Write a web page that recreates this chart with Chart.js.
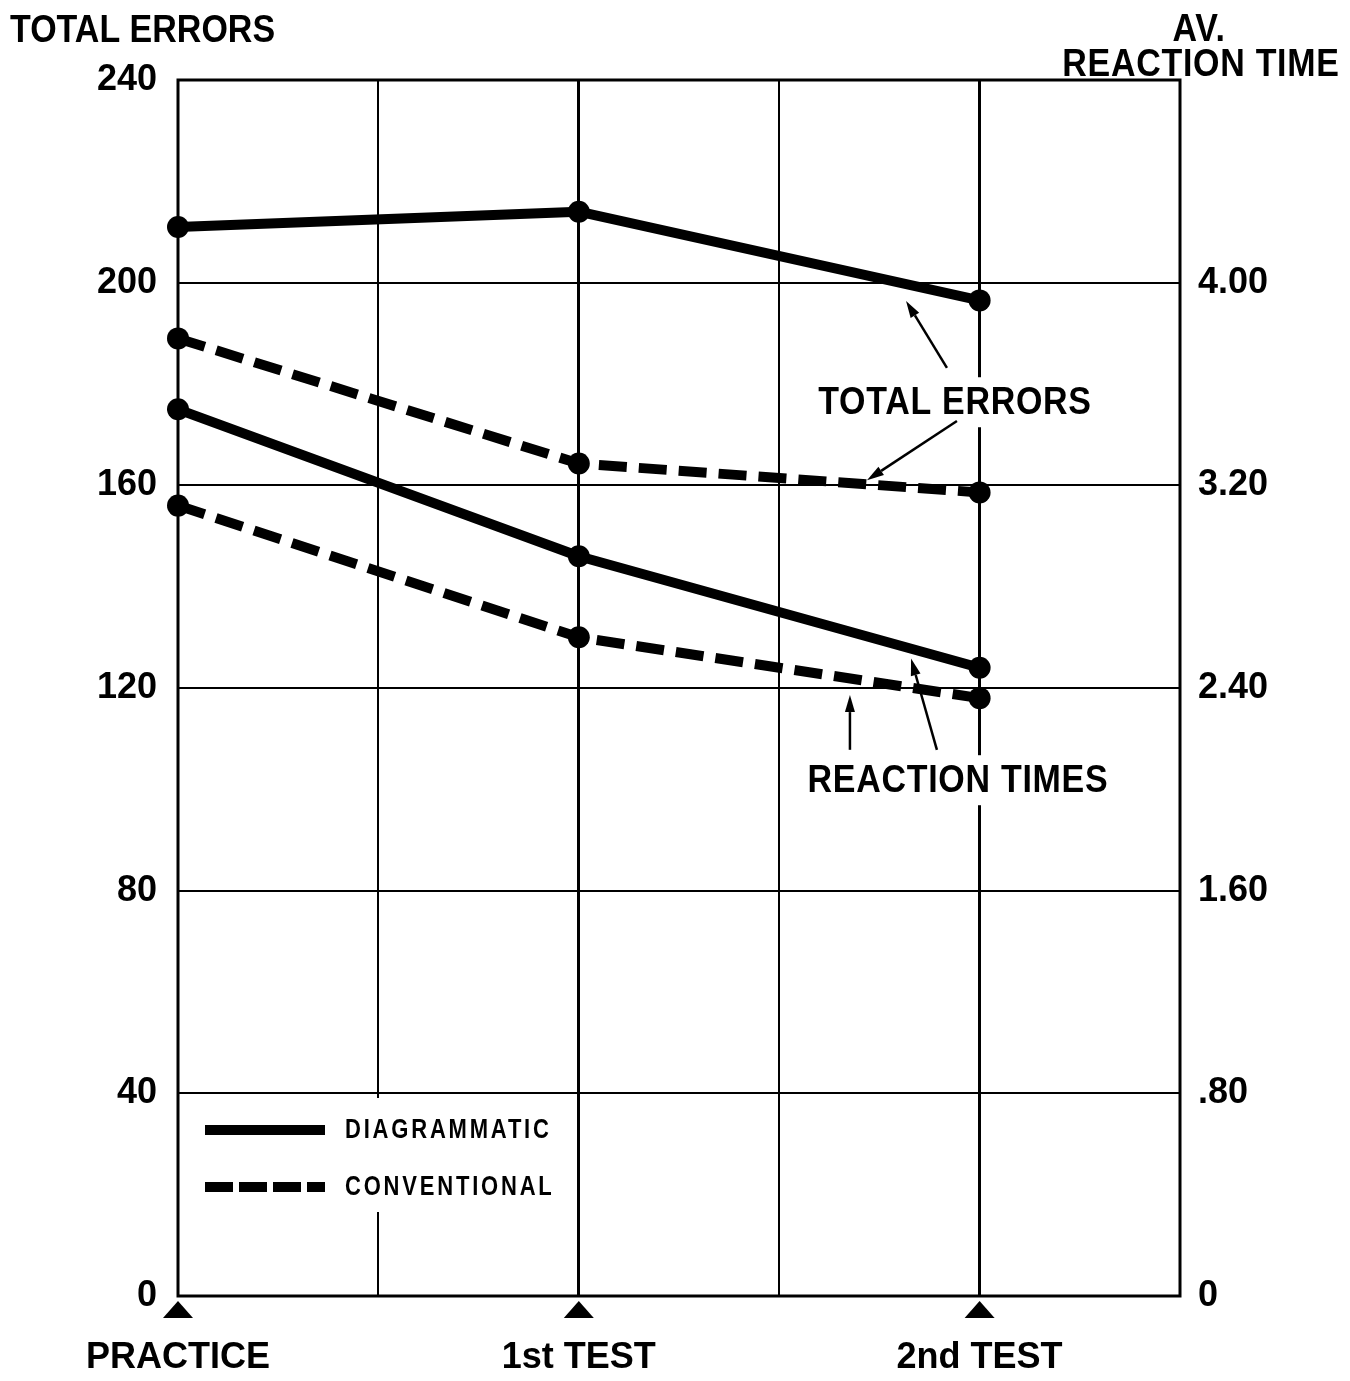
<!DOCTYPE html>
<html>
<head>
<meta charset="utf-8">
<script src="https://cdn.jsdelivr.net/npm/chart.js@4.4.1/dist/chart.umd.min.js"></script>
<style>
  html, body { margin: 0; padding: 0; background: #fff; }
  #c { display: block; }
</style>
</head>
<body>
<canvas id="c" width="1350" height="1381"></canvas>
<script>
// ---- data ----
const categories = ['PRACTICE', '', '1st TEST', '', '2nd TEST', ''];
const errorsDiagrammatic = [211, null, 214, null, 196.5, null];
const errorsConventional = [189, null, 164.3, null, 158.6, null];
const reactionDiagrammatic = [3.50, null, 2.92, null, 2.48, null];
const reactionConventional = [3.12, null, 2.60, null, 2.36, null];
const errorTickLabels = ['0', '40', '80', '120', '160', '200', '240'];
const reactionTickLabels = ['0', '.80', '1.60', '2.40', '3.20', '4.00', ''];
const seriesNames = ['DIAGRAMMATIC', 'CONVENTIONAL'];

const FONT = "'Liberation Sans', Arial, Helvetica, sans-serif";
Chart.defaults.font.family = FONT;
Chart.defaults.color = '#000';

const DASH = [28, 12];

function lineDs(label, data, axis, dashed) {
  return {
    label, data, yAxisID: axis,
    borderColor: '#000', backgroundColor: '#000',
    borderWidth: 10, borderDash: dashed ? DASH : [],
    pointRadius: 11, pointHoverRadius: 11,
    pointBackgroundColor: '#000', pointBorderWidth: 0,
    spanGaps: true, tension: 0, clip: false,
    borderCapStyle: 'butt', borderJoinStyle: 'round'
  };
}

const decor = {
  id: 'decor',
  beforeDatasetsDraw(chart) {
    const { ctx, chartArea: a } = chart;
    ctx.save();
    ctx.fillStyle = '#fff';
    ctx.fillRect(a.left + 17, a.bottom - 198, 365, 114);
    ctx.strokeStyle = '#000';
    ctx.lineWidth = 3;
    ctx.strokeRect(a.left, a.top, a.right - a.left, a.bottom - a.top);
    ctx.restore();
  },
  afterDatasetsDraw(chart) {
    const { ctx, chartArea: a } = chart;
    const xs = chart.scales.x, ys = chart.scales.y;
    const P = (xi, v) => [xs.getPixelForValue(xi), ys.getPixelForValue(v)];
    ctx.save();

    function tallText(text, x, y, sy) {
      ctx.save();
      ctx.translate(x, y);
      ctx.scale(1, sy);
      ctx.fillText(text, 0, 0);
      ctx.restore();
    }

    function boxText(text, xi, v) {
      const [x, y] = P(xi, v);
      ctx.font = 'bold 34px ' + FONT;
      ctx.letterSpacing = '0.7px';
      const w = ctx.measureText(text).width;
      ctx.fillStyle = '#fff';
      ctx.fillRect(x - w / 2 - 6, y - 25, w + 12, 50);
      ctx.fillStyle = '#000';
      ctx.textAlign = 'center';
      ctx.textBaseline = 'middle';
      tallText(text, x, y + 1, 1.13);
      ctx.letterSpacing = '0px';
    }
    boxText('TOTAL ERRORS', 3.877, 176.4);
    boxText('REACTION TIMES', 3.892, 101.8);

    function arrow(f, t) {
      const [x1, y1] = P(f[0], f[1]);
      const [x2, y2] = P(t[0], t[1]);
      const ang = Math.atan2(y2 - y1, x2 - x1);
      const L = 17, H = 5;
      const bx = x2 - L * Math.cos(ang), by = y2 - L * Math.sin(ang);
      ctx.strokeStyle = '#000';
      ctx.lineWidth = 2.5;
      ctx.beginPath();
      ctx.moveTo(x1, y1);
      ctx.lineTo(bx, by);
      ctx.stroke();
      ctx.fillStyle = '#000';
      ctx.beginPath();
      ctx.moveTo(x2, y2);
      ctx.lineTo(bx + H * Math.sin(ang), by - H * Math.cos(ang));
      ctx.lineTo(bx - H * Math.sin(ang), by + H * Math.cos(ang));
      ctx.closePath();
      ctx.fill();
    }
    arrow([3.837, 183.2], [3.633, 196.4]);
    arrow([3.887, 172.7], [3.438, 161.0]);
    arrow([3.353, 107.8], [3.353, 118.6]);
    arrow([3.787, 107.8], [3.658, 125.8]);

    // legend
    const lx = a.left + 27, lx2 = a.left + 147;
    const ly1 = a.bottom - 166, ly2 = a.bottom - 109;
    ctx.strokeStyle = '#000';
    ctx.lineWidth = 10;
    ctx.lineCap = 'butt';
    ctx.beginPath(); ctx.moveTo(lx, ly1); ctx.lineTo(lx2, ly1); ctx.stroke();
    ctx.setLineDash([28, 6]);
    ctx.beginPath(); ctx.moveTo(lx, ly2); ctx.lineTo(lx2, ly2); ctx.stroke();
    ctx.setLineDash([]);
    ctx.font = 'bold 22px ' + FONT;
    ctx.letterSpacing = '2.8px';
    ctx.textAlign = 'left';
    ctx.textBaseline = 'middle';
    ctx.fillStyle = '#000';
    tallText(seriesNames[0], lx2 + 20, ly1 + 1, 1.22);
    tallText(seriesNames[1], lx2 + 20, ly2 + 1, 1.22);
    ctx.letterSpacing = '0px';

    // triangles below axis at labelled categories
    categories.forEach((c, i) => {
      if (!c) return;
      const x = xs.getPixelForValue(i);
      ctx.beginPath();
      ctx.moveTo(x, a.bottom + 5);
      ctx.lineTo(x + 15, a.bottom + 22);
      ctx.lineTo(x - 15, a.bottom + 22);
      ctx.closePath();
      ctx.fill();
    });

    // axis titles
    ctx.font = 'bold 34px ' + FONT;
    ctx.textBaseline = 'middle';
    ctx.textAlign = 'left';
    tallText('TOTAL ERRORS', 10, 31, 1.13);
    ctx.textAlign = 'center';
    ctx.letterSpacing = '0.7px';
    tallText('AV.', 1199, 30, 1.13);
    tallText('REACTION TIME', 1201, 65, 1.13);
    ctx.letterSpacing = '0px';
    ctx.restore();
  }
};

new Chart(document.getElementById('c'), {
  type: 'line',
  data: {
    labels: categories,
    datasets: [
      lineDs('Total errors – ' + seriesNames[0], errorsDiagrammatic, 'y', false),
      lineDs('Total errors – ' + seriesNames[1], errorsConventional, 'y', true),
      lineDs('Reaction time – ' + seriesNames[0], reactionDiagrammatic, 'y2', false),
      lineDs('Reaction time – ' + seriesNames[1], reactionConventional, 'y2', true)
    ]
  },
  options: {
    responsive: false,
    animation: false,
    events: [],
    layout: { padding: { top: 80, left: 0, right: 0, bottom: 0 } },
    plugins: { legend: { display: false }, tooltip: { enabled: false } },
    scales: {
      x: {
        type: 'category',
        offset: false,
        border: { display: false },
        grid: {
          drawTicks: false,
          color: c => (c.index === 0 || c.index === categories.length - 1) ? 'rgba(0,0,0,0)' : '#000',
          lineWidth: c => categories[c.index] ? 3 : 2
        },
        ticks: {
          autoSkip: false, maxRotation: 0, padding: 40,
          font: { size: 36, weight: 'bold' }, color: '#000'
        },
        afterFit: s => { s.height = 85; }
      },
      y: {
        position: 'left', min: 0, max: 240,
        border: { display: false },
        grid: { drawTicks: false, color: '#000', lineWidth: 2 },
        ticks: {
          stepSize: 40, padding: 21,
          font: { size: 36, weight: 'bold' }, color: '#000',
          callback: (v, i) => errorTickLabels[i]
        },
        afterFit: s => { s.width = 178; }
      },
      y2: {
        position: 'right', min: 0, max: 4.8,
        border: { display: false },
        grid: { display: false, drawTicks: false },
        ticks: {
          stepSize: 0.8, padding: 18,
          font: { size: 36, weight: 'bold' }, color: '#000',
          callback: (v, i) => reactionTickLabels[i]
        },
        afterFit: s => { s.width = 170; }
      }
    }
  },
  plugins: [decor]
});
</script>
</body>
</html>
